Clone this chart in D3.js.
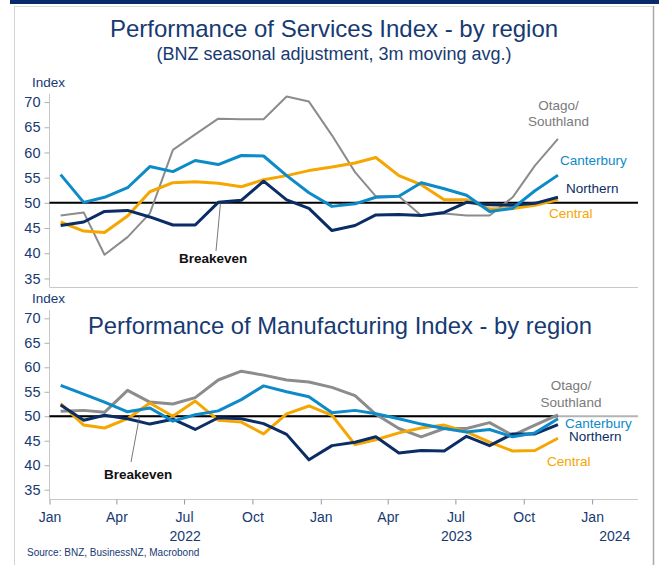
<!DOCTYPE html>
<html>
<head>
<meta charset="utf-8">
<script src="https://cdn.jsdelivr.net/npm/d3@7"></script>
<style>
  body { margin: 0; background: #fff; }
  svg { display: block; font-family: "Liberation Sans", Arial, sans-serif; }
</style>
</head>
<body>
<svg id="chart" width="659" height="565"></svg>
<script>
// monthly readings, Jan 2022 - Nov 2023
var months = d3.range(23).map(function(i){ return new Date(2022, i, 16); });

var servNorthern   = [45.5,46.2,48.3,48.5,47.2,45.6,45.6,50.1,50.5,54.3,50.6,48.9,44.5,45.5,47.6,47.7,47.5,48.1,50.1,49.6,49.5,49.9,51.1];
var servCanterbury = [55.6,50.1,51.1,53.0,57.2,56.2,58.4,57.6,59.4,59.3,55.4,52.0,49.3,49.8,51.1,51.3,54.0,52.8,51.5,48.3,48.9,52.4,55.5];
var servCentral    = [46.2,44.4,44.1,47.4,52.2,54.0,54.2,53.9,53.2,54.6,55.4,56.4,57.1,57.9,59.0,55.4,53.6,50.6,50.6,48.8,48.9,49.5,50.6];
var servOtago      = [47.5,48.1,39.7,43.2,47.9,60.5,63.6,66.7,66.6,66.6,71.1,70.1,63.4,56.1,51.3,51.3,47.5,47.9,47.5,47.5,51.1,57.4,62.7];

var manuNorthern   = [52.3,49.2,50.2,49.5,48.4,49.4,47.3,49.7,49.5,48.5,46.3,41.1,44.0,44.7,45.8,42.5,43.0,42.9,45.9,44.0,46.4,46.4,48.3];
var manuCanterbury = [56.3,54.5,52.9,50.9,51.7,49.0,50.3,51.1,53.4,56.2,55.0,54.0,50.7,51.2,50.5,49.5,48.4,47.5,46.8,47.3,45.8,46.6,49.5];
var manuCentral    = [52.6,48.2,47.6,49.5,52.7,50.0,53.1,49.2,48.8,46.4,50.5,52.1,50.2,44.2,45.2,46.6,47.6,48.2,46.8,44.7,42.9,43.0,45.5];
var manuOtago      = [51.0,51.2,50.8,55.3,52.9,52.5,53.8,57.4,59.2,58.4,57.4,57.0,55.9,54.2,50.4,47.5,45.8,47.5,47.5,48.7,46.1,48.2,50.3];

var yTicks = [35,40,45,50,55,60,65,70];
var monthNames = ["Jan","Apr","Jul","Oct"];
var years = [2022, 2023, 2024];
var breakeven = 50;

var navy = "#173a72", cBlue = "#0d8ac8", cNavy = "#0b2d66", cOrange = "#f5a600", cGrey = "#8c8c8c";

var svg = d3.select("#chart");

// frame
svg.append("rect").attr("x",10).attr("y",0).attr("width",649).attr("height",4).attr("fill","#0b2a6e");
svg.append("line").attr("x1",14).attr("x2",654).attr("y1",6.5).attr("y2",6.5).attr("stroke","#dcdcdc");
svg.append("line").attr("x1",14.5).attr("x2",14.5).attr("y1",6).attr("y2",565).attr("stroke","#d4d4d4");
svg.append("line").attr("x1",653.5).attr("x2",653.5).attr("y1",6).attr("y2",565).attr("stroke","#a8a8a8").attr("stroke-width",1.5);

var x = d3.scaleTime()
    .domain([new Date(2022,0,1), new Date(2024,2,2)])
    .range([49.5, 637.5]);

function panel(opt){
  var y = d3.scaleLinear().domain([opt.lo, 71.7]).range([opt.bottom, opt.top]);
  var g = svg.append("g");

  // y axis
  var ya = g.append("g").attr("transform","translate(49.5,0)")
      .call(d3.axisLeft(y).tickValues(yTicks).tickSize(5).tickPadding(4));
  ya.select(".domain").attr("stroke","#c8c8c8").attr("d","M0," + opt.top + "V" + opt.bottom);
  ya.selectAll(".tick line").attr("stroke","#b0b0b0");
  ya.selectAll(".tick text").attr("fill", navy).style("font-size","14.5px")
      .style("font-family","'Liberation Sans', Arial, sans-serif");

  g.append("text").attr("x",32).attr("y",opt.indexY).attr("fill",navy)
    .style("font-size","13.5px").text("Index");

  // x baseline
  g.append("line").attr("x1",49.5).attr("x2",638).attr("y1",opt.bottom+0.5).attr("y2",opt.bottom+0.5)
    .attr("stroke","#c8c8c8");

  // breakeven line
  var by = y(breakeven);
  if (opt.blackTo) {
    g.append("line").attr("x1",49.5).attr("x2",638).attr("y1",by).attr("y2",by)
      .attr("stroke","#b4b4b4").attr("stroke-width",2);
  }
  g.append("line").attr("x1",49.5).attr("x2",opt.blackTo ? x(opt.blackTo) : 638).attr("y1",by).attr("y2",by)
    .attr("stroke","#000").attr("stroke-width",2);

  var line = d3.line().x(function(d,i){ return x(months[i]); }).y(function(d){ return y(d); });
  opt.series.forEach(function(s){
    g.append("path").datum(s.values).attr("d", line).attr("fill","none")
      .attr("stroke", s.color).attr("stroke-width", s.width).attr("stroke-linejoin","round");
  });

  // breakeven label
  g.append("line").attr("x1",opt.bk.lx1).attr("y1",opt.bk.ly1).attr("x2",opt.bk.lx2).attr("y2",by)
    .attr("stroke","#555").attr("stroke-width",0.8);
  g.append("text").attr("x",opt.bk.tx).attr("y",opt.bk.ty).attr("fill","#111")
    .style("font-size","13.5px").style("font-weight","bold").text("Breakeven");

  // series labels
  opt.labels.forEach(function(l){
    g.append("text").attr("x",l.x).attr("y",l.y).attr("fill",l.color)
      .attr("text-anchor", l.anchor || "start").style("font-size","13.5px").text(l.text);
  });
  return y;
}

panel({
  lo: 33.3, top: 93.5, bottom: 287, indexY: 87,
  series: [
    {values: servOtago, color: cGrey, width: 2},
    {values: servCentral, color: cOrange, width: 3},
    {values: servNorthern, color: cNavy, width: 3},
    {values: servCanterbury, color: cBlue, width: 3}
  ],
  bk: {lx1: 216, ly1: 251, lx2: 220.5, tx: 179, ty: 263},
  labels: [
    {text:"Otago/", x:558.5, y:109.5, color:"#7a7a7a", anchor:"middle"},
    {text:"Southland", x:558.5, y:125.5, color:"#7a7a7a", anchor:"middle"},
    {text:"Canterbury", x:560, y:165, color:cBlue},
    {text:"Northern", x:566, y:193, color:cNavy},
    {text:"Central", x:549, y:217.5, color:cOrange}
  ]
});

panel({
  lo: 33.1, top: 310, bottom: 499, indexY: 303, blackTo: months[22],
  series: [
    {values: manuOtago, color: cGrey, width: 3},
    {values: manuCentral, color: cOrange, width: 3},
    {values: manuNorthern, color: cNavy, width: 3},
    {values: manuCanterbury, color: cBlue, width: 3}
  ],
  bk: {lx1: 131, ly1: 462, lx2: 139.5, tx: 104, ty: 479},
  labels: [
    {text:"Otago/", x:571, y:390, color:"#7a7a7a", anchor:"middle"},
    {text:"Southland", x:571, y:406.5, color:"#7a7a7a", anchor:"middle"},
    {text:"Canterbury", x:565, y:427.5, color:cBlue},
    {text:"Northern", x:569, y:441, color:cNavy},
    {text:"Central", x:547, y:466, color:cOrange}
  ]
});

// x axis (bottom panel)
var xa = svg.append("g").attr("transform","translate(0,499.5)")
    .call(d3.axisBottom(x).ticks(d3.timeMonth.every(3)).tickSize(5).tickPadding(8)
      .tickFormat(function(d){ return monthNames[d.getMonth()/3]; }));
xa.select(".domain").remove();
xa.selectAll(".tick line").attr("stroke","#8a9ab5");
xa.selectAll(".tick text").attr("fill",navy).style("font-size","14px")
  .style("font-family","'Liberation Sans', Arial, sans-serif");

svg.append("g").selectAll("text").data(years).join("text")
  .attr("x", function(d){
    var a = new Date(d,0,1), b = d3.min([new Date(d+1,0,1), x.domain()[1]]);
    return x(new Date((+a + +b)/2));
  })
  .attr("y", 541).attr("text-anchor","middle").attr("fill",navy)
  .style("font-size","14px").text(function(d){ return d; });

// titles
svg.append("text").attr("x",334).attr("y",36.5).attr("text-anchor","middle").attr("fill",navy)
  .style("font-size","24px").text("Performance of Services Index - by region");
svg.append("text").attr("x",334).attr("y",60).attr("text-anchor","middle").attr("fill",navy)
  .style("font-size","18px").text("(BNZ seasonal adjustment, 3m moving avg.)");
svg.append("text").attr("x",88).attr("y",333.5).attr("fill",navy)
  .style("font-size","23.8px").text("Performance of Manufacturing Index - by region");

svg.append("text").attr("x",27).attr("y",556).attr("fill",navy)
  .style("font-size","10px").text("Source: BNZ, BusinessNZ, Macrobond");
</script>
</body>
</html>
